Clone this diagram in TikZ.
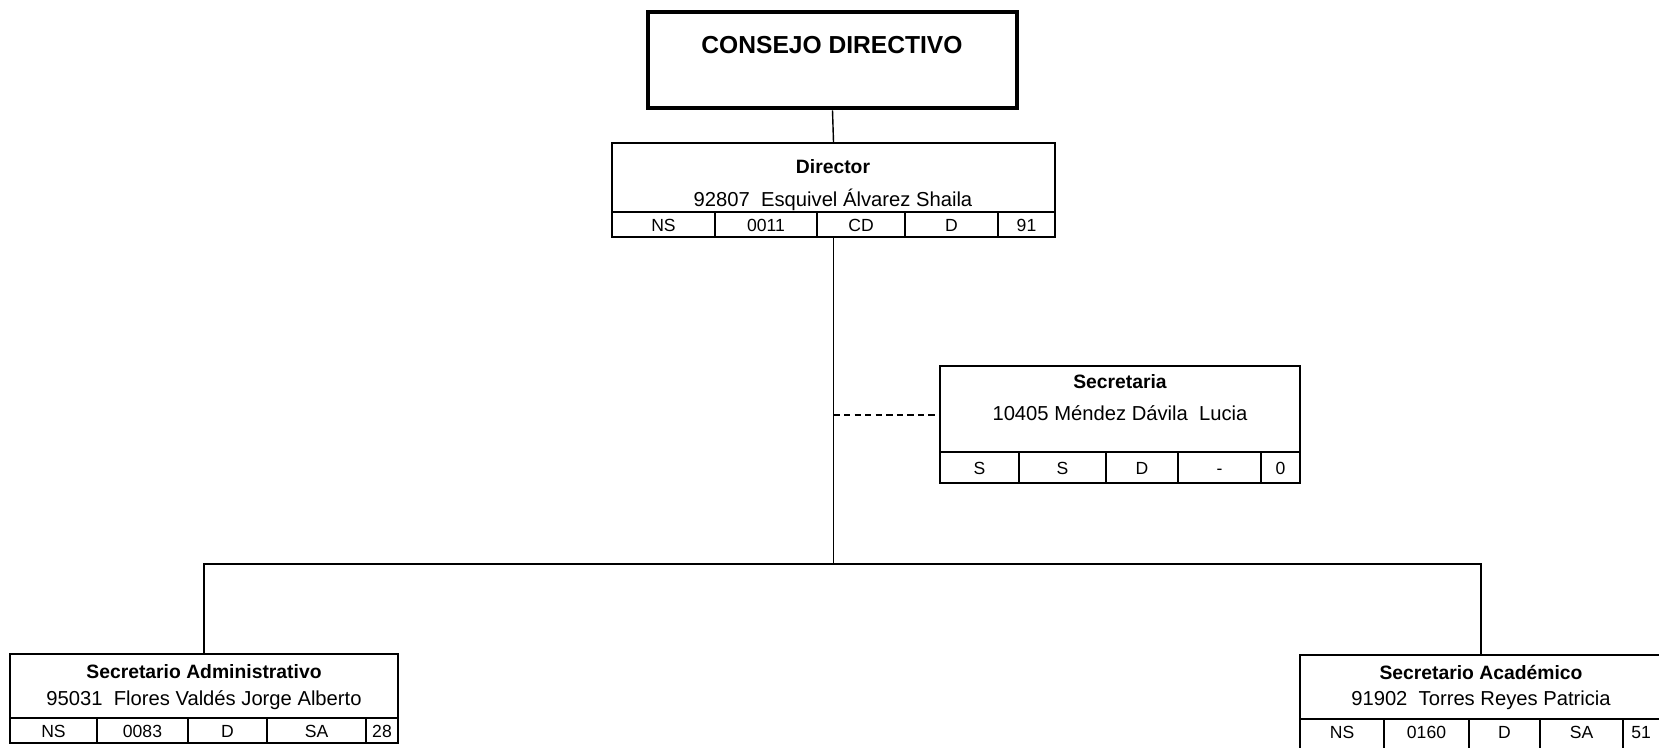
\documentclass[tikz,border=0pt]{standalone}
\usepackage{fontspec}
\setmainfont{Liberation Sans}
\usetikzlibrary{fit}

\begin{document}
\begin{tikzpicture}[x=0.02cm,y=-0.02cm,
  caja/.style={draw,line width=1.1pt,inner sep=0pt},
  linea/.style={line width=0.8pt},
  titulo/.style={font=\fontsize{11}{13}\selectfont\bfseries},
  nombre/.style={font=\fontsize{11.5}{13}\selectfont},
  celda/.style={font=\fontsize{10}{12}\selectfont,text height=7.2pt,text depth=0pt}]
\clip (0,0) rectangle (1659,747);
% Consejo Directivo
\node[caja,line width=2.8pt,fit={(648,12) (1017,108)}] (cd) {};
\node[font=\fontsize{14}{16}\selectfont\bfseries] (cdT) at (832,45) {CONSEJO DIRECTIVO};
% Director
\node[caja,fit={(612,143) (1055,237)}] (dir) {};
\draw[linea] (612,212) -- (1055,212);
\foreach \x in {715,817,905,998} \draw[linea] (\x,212) -- (\x,237);
\node[titulo] (dirT) at (833,167) {Director};
\node[nombre] (dirN) at (833,200) {92807\ \ Esquivel Álvarez Shaila};
\foreach \x/\t [count=\i] in {663.5/NS,766/0011,861/CD,951.5/D,1026.5/91}
  \node[celda] (dirC\i) at (\x,225) {\t};
% Secretaria
\node[caja,fit={(940,366) (1300,483)}] (sec) {};
\draw[linea] (940,452) -- (1300,452);
\foreach \x in {1019,1106,1178,1261} \draw[linea] (\x,452) -- (\x,483);
\node[titulo] (secT) at (1120,382) {Secretaria};
\node[nombre] (secN) at (1120,413) {10405 Méndez Dávila\ \ Lucia};
\foreach \x/\t [count=\i] in {979.5/S,1062.5/S,1142/D,1219.5/-,1280.5/0}
  \node[celda] (secC\i) at (\x,468) {\t};
% Secretario Administrativo
\node[caja,fit={(10,654) (398,743)}] (sad) {};
\draw[linea] (10,718) -- (398,718);
\foreach \x in {97,188,267,366} \draw[linea] (\x,718) -- (\x,743);
\node[titulo] (sadT) at (204,672) {Secretario Administrativo};
\node[nombre] (sadN) at (204,700) {95031\ \ Flores Valdés Jorge Alberto};
\foreach \x/\t [count=\i] in {53.5/NS,142.5/0083,227.5/D,316.5/SA,382/28}
  \node[celda] (sadC\i) at (\x,731) {\t};
% Secretario Academico
\node[caja,fit={(1300,655) (1662,760)}] (sac) {};
\draw[linea] (1300,719) -- (1662,719);
\foreach \x in {1384,1469,1540,1623} \draw[linea] (\x,719) -- (\x,760);
\node[titulo] (sacT) at (1481,672) {Secretario Académico};
\node[nombre] (sacN) at (1481,700) {91902\ \ Torres Reyes Patricia};
\foreach \x/\t [count=\i] in {1342/NS,1426.5/0160,1504.5/D,1581.5/SA,1641/51}
  \node[celda] (sacC\i) at (\x,732) {\t};
% conexiones
\coordinate (bus) at (833.5,564);
\coordinate (ramal) at (833.5,415);
\draw[linea] (cd.south) -- (dir.north);
\draw[linea] (dir.south) -- (bus);
\draw[linea] (sad.north) |- (bus) -| (sac.north);
\draw[linea,dash pattern=on 3.6pt off 2.4pt] (ramal) -- (ramal -| sec.west);
\end{tikzpicture}
\end{document}
